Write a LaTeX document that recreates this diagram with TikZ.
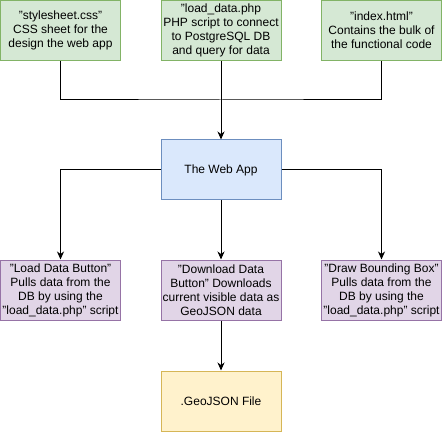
\documentclass[tikz,border=0pt]{standalone}
\usepackage{fontspec}
\setmainfont{Liberation Sans}
\usetikzlibrary{arrows.meta,positioning}

\definecolor{greenfill}{HTML}{D5E8D4}
\definecolor{greenline}{HTML}{82B366}
\definecolor{bluefill}{HTML}{DAE8FC}
\definecolor{blueline}{HTML}{6C8EBF}
\definecolor{purplefill}{HTML}{E1D5E7}
\definecolor{purpleline}{HTML}{9673A6}
\definecolor{yellowfill}{HTML}{FFF2CC}
\definecolor{yellowline}{HTML}{D6B656}

\tikzset{
	box/.style={draw,line width=1pt,minimum width=120pt,minimum height=60pt,inner sep=0pt,align=center,font=\fontsize{12}{14}\selectfont},
	filebox/.style={box,fill=greenfill,draw=greenline},
	appbox/.style={box,fill=bluefill,draw=blueline},
	btnbox/.style={box,fill=purplefill,draw=purpleline},
	outbox/.style={box,fill=yellowfill,draw=yellowline},
	wire/.style={line width=1pt},
	arr/.style={wire,-{Stealth[length=8pt,width=7pt,inset=2.5pt]}}
}

\begin{document}
\begin{tikzpicture}[x=1pt,y=-1pt]
	\useasboundingbox (0,0) rectangle (442,433);
	% files
	\node[filebox] (css) at (60.5,30.5) {"stylesheet.css"\\CSS sheet for the\\design the web app};
	\node[filebox] (php) at (221,30.5) {"load\_data.php\\PHP script to connect\\to PostgreSQL DB\\and query for data};
	\node[filebox] (idx) at (381.5,30.5) {"index.html"\\Contains the bulk of\\the functional code};
	\path (221,100) coordinate (bus);
	% app
	\node[appbox] (app) at (221,170) {The Web App};
	% buttons
	\node[btnbox] (load) at (60.5,290) {"Load Data Button"\\Pulls data from the\\DB by using the\\"load\_data.php" script};
	\node[btnbox] (dl) at (221,290) {"Download Data\\Button" Downloads\\current visible data as\\GeoJSON data};
	\node[btnbox] (bbox) at (381.5,290) {"Draw Bounding Box"\\Pulls data from the\\DB by using the\\"load\_data.php" script};
	\node[outbox] (geo) at (221,401) {.GeoJSON File};
	% connectors
	\draw[wire] (css.south) |- (bus) -| (idx.south);
	\draw[arr] (php.south) -- (app.north);
	\draw[arr] (app.west) -| (load.north);
	\draw[arr] (app.east) -| (bbox.north);
	\draw[arr] (app.south) -- (dl.north);
	\draw[arr] (dl.south) -- (geo.north);
\end{tikzpicture}
\end{document}
